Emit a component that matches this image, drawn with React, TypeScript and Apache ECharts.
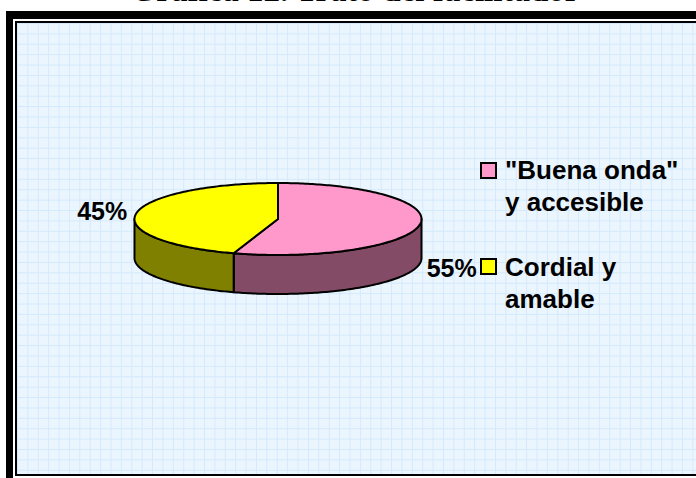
import React, { useEffect, useRef } from "react";
import * as echarts from "echarts";

const titleText = "Gráfica 12. Trato del facilitador";
const categories = ['"Buena onda"\ny accesible', "Cordial y\namable"];
const values = [55, 45];
const percentLabels = ["55%", "45%"];
const topColors = ["#ff99cc", "#ffff00"];
const sideColors = ["#834b66", "#808000"];

const CX = 278;
const CY = 219;
const RX = 143.5;
const RY = 36;
const DEPTH = 39;

const LABEL_FONT = 'bold 25px "Liberation Sans", Arial, sans-serif';
const LEGEND_FONT = 'bold 26px "Liberation Sans", Arial, sans-serif';

function pt(theta: number, dy: number): number[] {
  const r = (theta * Math.PI) / 180;
  return [CX + RX * Math.sin(r), CY - RY * Math.cos(r) + dy];
}

function arc(a: number, b: number, dy: number): number[][] {
  const pts: number[][] = [];
  const n = Math.max(2, Math.ceil(Math.abs(b - a)));
  for (let i = 0; i <= n; i++) pts.push(pt(a + ((b - a) * i) / n, dy));
  return pts;
}

function renderSlice(params: any, api: any) {
  const i = params.dataIndex;
  const total = values.reduce((s, v) => s + v, 0);
  let start = 0;
  for (let k = 0; k < i; k++) start += values[k];
  const v = api.value(0);
  const a0 = (start / total) * 360;
  const a1 = ((start + v) / total) * 360;
  const children: any[] = [];
  const f0 = Math.max(a0, 90);
  const f1 = Math.min(a1, 270);
  if (f1 > f0) {
    children.push({
      type: "polygon",
      shape: { points: [...arc(f0, f1, 0), ...arc(f1, f0, DEPTH)] },
      style: { fill: sideColors[i], stroke: "#000", lineWidth: 2, lineJoin: "round" },
    });
  }
  children.push({
    type: "polygon",
    shape: { points: [[CX, CY], ...arc(a0, a1, 0)] },
    style: { fill: topColors[i], stroke: "#000", lineWidth: 2, lineJoin: "round" },
  });
  const mid = (a0 + a1) / 2;
  const p = pt(mid, 0);
  const rad = (mid * Math.PI) / 180;
  const front = Math.cos(rad) < 0;
  const right = Math.sin(rad) > 0;
  children.push({
    type: "text",
    style: {
      text: percentLabels[i],
      x: p[0] + (right ? 7 : -9),
      y: p[1] + (front ? DEPTH + 4 : -2),
      align: right ? "left" : "right",
      verticalAlign: "middle",
      font: LABEL_FONT,
      fill: "#000",
    },
  });
  return { type: "group", children };
}

export default function App() {
  const ref = useRef<HTMLDivElement>(null);
  useEffect(() => {
    if (!ref.current) return;
    const chart = echarts.init(ref.current, undefined, { renderer: "svg" });
    const legendEls: any[] = [];
    categories.forEach((c, i) => {
      legendEls.push({
        type: "rect",
        shape: { x: 481, y: 163 + i * 96, width: 15, height: 15 },
        style: { fill: topColors[i], stroke: "#000", lineWidth: 2 },
      });
      legendEls.push({
        type: "text",
        style: {
          text: c,
          x: 505,
          y: 154 + i * 97,
          font: LEGEND_FONT,
          lineHeight: 32,
          verticalAlign: "top",
          align: "left",
          fill: "#000",
        },
      });
    });
    chart.setOption({
      animation: false,
      graphic: [
        {
          type: "text",
          style: {
            text: titleText,
            x: 355,
            y: -10,
            align: "center",
            verticalAlign: "middle",
            font: 'bold 33px "Liberation Serif", "Times New Roman", serif',
            fill: "#000",
          },
        },
        ...legendEls,
      ],
      series: [
        {
          type: "custom",
          coordinateSystem: "none",
          renderItem: renderSlice,
          data: values.map((v, i) => ({ name: categories[i], value: v })),
        },
      ],
    });
    return () => chart.dispose();
  }, []);

  const abs = (l: number, t: number, w: number, h: number, bg: string): React.CSSProperties => ({
    position: "absolute",
    left: l,
    top: t,
    width: w,
    height: h,
    background: bg,
  });

  return (
    <div style={{ position: "absolute", left: 0, top: 0, width: 696, height: 478, overflow: "hidden", background: "#fff" }}>
      <div style={abs(6, 11, 700, 480, "#000")} />
      <div style={abs(13, 19, 700, 459, "#fff")} />
      <div style={abs(15, 21, 700, 455, "#000")} />
      <div
        style={{
          ...abs(17, 23, 700, 451, "#eaf5fe"),
          backgroundImage:
            "linear-gradient(to right, #d3e9fc 1px, transparent 1px), linear-gradient(to bottom, #d3e9fc 1px, transparent 1px)",
          backgroundSize: "10.4px 10.4px",
        }}
      />
      <div ref={ref} style={{ position: "absolute", left: 0, top: 0, width: 696, height: 478 }} />
    </div>
  );
}
